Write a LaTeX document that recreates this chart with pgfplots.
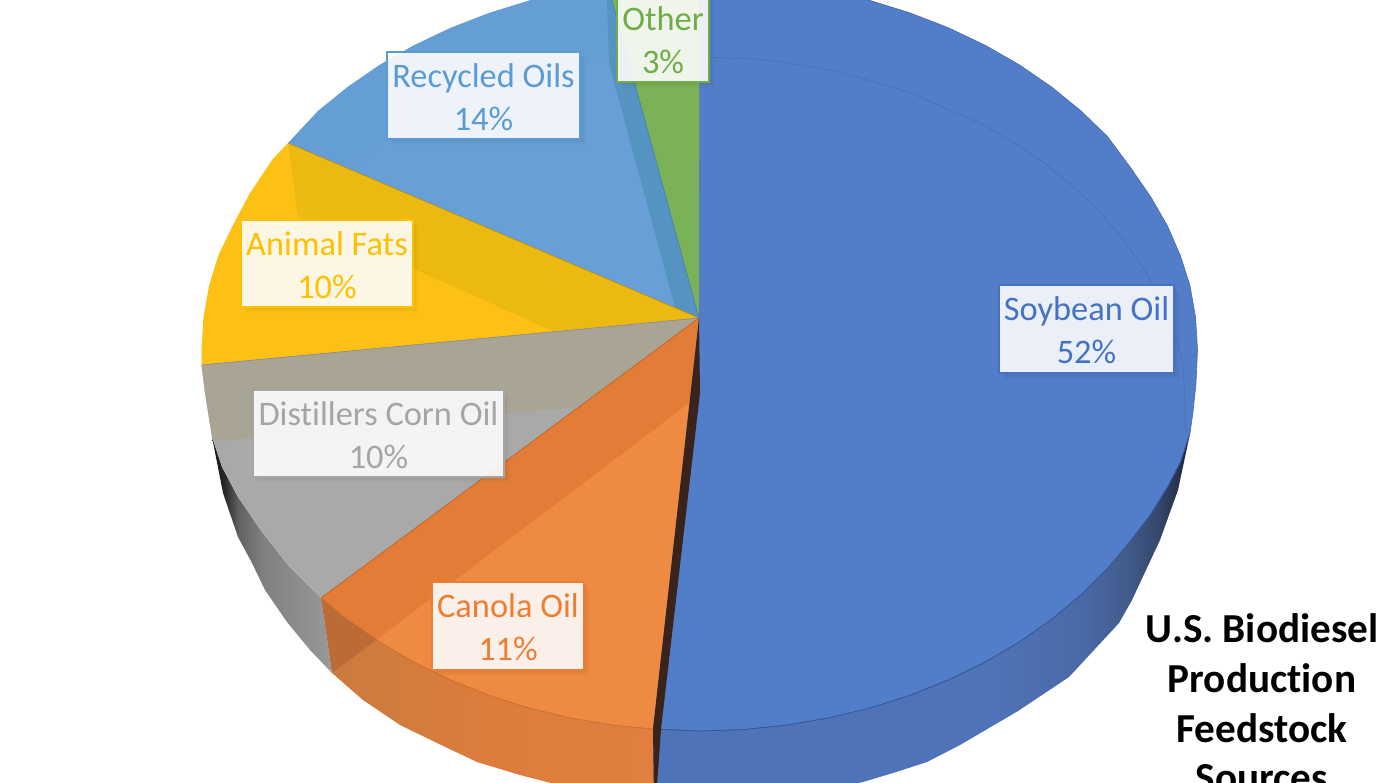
\documentclass[border=0pt]{standalone}
\usepackage{fontspec}
\setmainfont[Ligatures=NoCommon]{Carlito}
\usepackage{pgfplots}
\pgfplotsset{compat=1.18}

\definecolor{soy}{HTML}{527DC8}
\definecolor{rec}{HTML}{659ED4}
\definecolor{recB}{HTML}{689FD6}
\definecolor{recD}{HTML}{5493C2}
\definecolor{oth}{HTML}{7BB258}
\definecolor{fat}{HTML}{FDC115}
\definecolor{fatD}{HTML}{ECB910}
\definecolor{dist}{HTML}{A9A9A9}
\definecolor{distT}{HTML}{A9A493}
\definecolor{can}{HTML}{EE8A42}
\definecolor{canD}{HTML}{E27C36}
\definecolor{canS}{HTML}{DF7F3F}
\definecolor{brn}{HTML}{39231A}
% office palette for the label boxes
\definecolor{lSoy}{HTML}{4472C4}
\definecolor{lRec}{HTML}{5B9BD5}
\definecolor{lOth}{HTML}{70AD47}
\definecolor{lFat}{HTML}{FFC000}
\definecolor{lDist}{HTML}{A5A5A5}
\definecolor{lCan}{HTML}{ED7D31}

\pgfdeclarehorizontalshading{soyside}{100bp}{
  rgb(0bp)=(0.31,0.45,0.72); rgb(57bp)=(0.31,0.45,0.72); rgb(65bp)=(0.29,0.41,0.65);
  rgb(69bp)=(0.26,0.36,0.55); rgb(72bp)=(0.21,0.28,0.42); rgb(74bp)=(0.15,0.19,0.29);
  rgb(75bp)=(0.10,0.13,0.20); rgb(100bp)=(0.10,0.13,0.20)}
\pgfdeclarehorizontalshading{distside}{100bp}{
  rgb(0bp)=(0.10,0.10,0.10); rgb(25bp)=(0.10,0.10,0.10); rgb(30bp)=(0.15,0.15,0.15);
  rgb(36bp)=(0.38,0.38,0.38); rgb(46bp)=(0.50,0.50,0.50); rgb(75bp)=(0.60,0.60,0.60);
  rgb(100bp)=(0.60,0.60,0.60)}
\pgfdeclarehorizontalshading{canside}{100bp}{
  rgb(0bp)=(0.79,0.48,0.25); rgb(25bp)=(0.79,0.48,0.25); rgb(50bp)=(0.86,0.49,0.24);
  rgb(75bp)=(0.88,0.50,0.25); rgb(100bp)=(0.88,0.50,0.25)}

% x1 y1 x2 y2 colour line1 line2
\newcommand{\lab}[7]{
  \fill[#5!50!black,opacity=.05] (#1+2,#2+2) rectangle (#3+2,#4+2);
  \fill[#5!50!black,opacity=.05] (#1+4,#2+4) rectangle (#3+4,#4+4);
  \fill[#5!50!black,opacity=.03] (#1+6,#2+6) rectangle (#3+6,#4+6);
  \draw[#5,line width=.55pt,fill=white,fill opacity=.89] (#1,#2) rectangle (#3,#4);
  \node[anchor=base,text=#5,font=\fontsize{17.2}{18}\selectfont,inner sep=0pt] at ({(#1+#3)/2},{#2+35}) {#6};
  \node[anchor=base,text=#5,font=\fontsize{17.2}{18}\selectfont,inner sep=0pt] at ({(#1+#3)/2},{#2+78}) {#7};
}

\begin{document}
\begin{tikzpicture}
\begin{axis}[
  width=700pt, height=391pt, scale only axis,
  xmin=0, xmax=1400, ymin=0, ymax=782, y dir=reverse,
  hide axis, clip=true, no markers,
]
% side walls
\addplot[shading=soyside, draw=none] coordinates {
  (1190,433) (1188,443) (1178,490) (1160,540) (1132,600) (1119,623) (1069,677) (1018,711)
  (960,745) (927,762) (893,773) (863,782) (800,795) (700,800) (654,800) (653,729)
  (699.5,731) (742.9,729.6) (786,725.2) (828.4,718) (869.8,708) (910,695.3) (948.5,679.9) (985.2,662.1)
  (1019.6,641.8) (1051.6,619.4) (1081,594.9) (1107.5,568.5) (1130.8,540.5) (1150.8,514) (1167.5,487) (1180.5,462)
} --cycle;
\addplot[shading=canside, draw=none] coordinates {
  (321,598) (347.4,619.4) (379.4,641.8) (413.8,662.1) (450.5,679.9) (489,695.3) (529.2,708) (570.6,718)
  (613,725.2) (653,729) (654,800) (600,795) (547,782) (520,775) (477,762) (437,743) (400,725) (363,700) (332,673)
} --cycle;
\addplot[fill=canS!82!black, draw=none, opacity=.8] coordinates {(321,598) (376,640) (332,673)} --cycle;
\addplot[shading=distside, draw=none] coordinates {
  (212,437) (222,467) (238,497) (262,532) (288,565) (321,598) (332,673) (310,650) (287,622)
  (265,590) (252,563) (238,537) (223,493)
} --cycle;

% top faces
\addplot[fill=soy, draw=soy!85!black, line width=.3pt] coordinates {
  (699,318) (699.5,-22) (742.9,-20.6) (786,-16.4) (828.4,-9.3) (869.8,.4) (910,12.9) (948.5,27.8) (985.2,45.3)
  (1019.6,65) (1051.6,87) (1081,110.9) (1107.5,136.6) (1130.8,168) (1150.8,197) (1167.5,226) (1180.5,256)
  (1189.9,285.4) (1195.6,317.6) (1197.5,350) (1196,383) (1193,412) (1190,433) (1180.5,462) (1167.5,487)
  (1150.8,514) (1130.8,540.5) (1107.5,568.5) (1081,594.9) (1051.6,619.4) (1019.6,641.8) (985.2,662.1)
  (948.5,679.9) (910,695.3) (869.8,708) (828.4,718) (786,725.2) (742.9,729.6) (699.5,731) (653,729)
} --cycle;
\addplot[fill=oth, draw=none] coordinates {(699,318) (607.6,-16) (699,-22)} --cycle;
\addplot[fill=rec, draw=none] coordinates {
  (699,318) (288,143) (318,110.9) (347.4,87) (379.4,65) (413.8,45.3) (450.5,27.8) (489,12.9) (529.2,.4)
  (570.6,-9.3) (607.6,-16)
} --cycle;
\addplot[fill=recB, draw=none] coordinates {
  (699,318) (354,170) (385,143.1) (418.9,123.5) (455,106.3) (492.9,91.5) (532.4,79.2) (573.2,69.5) (609,63) (675,307)
} --cycle;
\addplot[fill=recD, draw=none] coordinates {(699,318) (612,0) (607,0) (609,63) (675,307)} --cycle;
\addplot[fill=fat, draw=none] coordinates {
  (699,318) (201.5,365) (201.5,350) (203.4,317.6) (209.1,285.4) (218.5,255) (233,225) (250,193) (272,160) (288,143)
} --cycle;
\addplot[fill=fatD, draw=none] coordinates {(699,318) (288,143) (298,217) (553,331)} --cycle;
\addplot[fill=dist, draw=none] coordinates {
  (699,318) (201.5,365) (205,393) (212,437) (222,467) (238,497) (262,532) (288,565) (321,598)
} --cycle;
\addplot[fill=distT, draw=none] coordinates {(699,318) (201.5,365) (205,393) (212,437) (217,441) (578,407)} --cycle;
\addplot[fill=can, draw=none] coordinates {
  (699,318) (321,598) (347.4,619.4) (379.4,641.8) (413.8,662.1) (450.5,679.9) (489,695.3) (529.2,708)
  (570.6,718) (613,725.2) (653,729)
} --cycle;
\addplot[fill=canD, draw=none] coordinates {(699,318) (321,598) (376,640) (689,403)} --cycle;

% sector edges
\addplot[lFat!70!black, line width=.25pt] coordinates {(699,318) (288,143)};
\addplot[black!45, line width=.35pt] coordinates {(699,318) (201.5,365)};
\addplot[lCan!80!black, line width=.35pt] coordinates {(699,318) (321,598)};
\addplot[lCan!85!black, line width=.35pt] coordinates {
  (321,598) (347.4,619.4) (379.4,641.8) (413.8,662.1) (450.5,679.9) (489,695.3) (529.2,708) (570.6,718) (613,725.2) (653,729)};
\addplot[lSoy!75!black, line width=.35pt] coordinates {
  (653,729) (699.5,731) (742.9,729.6) (786,725.2) (828.4,718) (869.8,708) (910,695.3) (948.5,679.9) (985.2,662.1)
  (1019.6,641.8) (1051.6,619.4) (1081,594.9) (1107.5,568.5) (1130.8,540.5) (1150.8,514) (1167.5,487) (1180.5,462) (1190,433)};
\addplot[lRec!80!black, line width=.3pt] coordinates {(699,318) (607.6,-16)};

% faint back rim of the lower face
\addplot[white, opacity=.06, line width=.4pt] coordinates {
  (223,363) (226.7,330) (239.6,299.1) (255.9,269.5) (275.7,241) (298,214) (324.7,188.5) (353.5,164.8)
  (385,143.1) (418.9,123.5) (455,106.3) (492.9,91.5) (532.4,79.2) (573.2,69.5) (609,63)};
\addplot[soy!80!black, opacity=.55, line width=.3pt] coordinates {
  (700,57) (742.7,58.4) (777,61) (826.8,69.5) (850,75) (907.1,91.5) (933,103) (981.1,123.5) (1015,143.1) (1046.5,164.8)
  (1075.3,188.5) (1101.4,213.9) (1124.3,241) (1144.1,269.5) (1160.4,299.1) (1173.3,329.8) (1182.6,361.1) (1185,400) (1186,433)};

% wall between canola and soybean
\addplot[fill=brn, draw=none] coordinates {(699,318) (700,393) (661,729) (656,800) (654,800) (653,729)} --cycle;

\lab{387}{52}{580}{139}{lRec}{Recycled Oils}{14\%}
\lab{617}{-5}{709}{82}{lOth}{Other}{3\%}
\lab{241}{220}{413}{307}{lFat}{Animal Fats}{10\%}
\lab{253}{390}{504}{477}{lDist}{Distillers Corn Oil}{10\%}
\lab{432}{582}{584}{670}{lCan}{Canola Oil}{11\%}
\lab{999}{285}{1174}{373}{lSoy}{Soybean Oil}{52\%}

\node[anchor=base,font=\fontsize{20.6}{20}\selectfont\bfseries,inner sep=0pt] at (1262,642) {U.S. Biodiesel};
\node[anchor=base,font=\fontsize{20.6}{20}\selectfont\bfseries,inner sep=0pt] at (1262,692) {Production};
\node[anchor=base,font=\fontsize{20.6}{20}\selectfont\bfseries,inner sep=0pt] at (1262,742) {Feedstock};
\node[anchor=base,font=\fontsize{20.6}{20}\selectfont\bfseries,inner sep=0pt] at (1262,791) {Sources};
\end{axis}
\pgfresetboundingbox
\useasboundingbox (0,0) rectangle (700pt,391pt);
\end{tikzpicture}
\end{document}
